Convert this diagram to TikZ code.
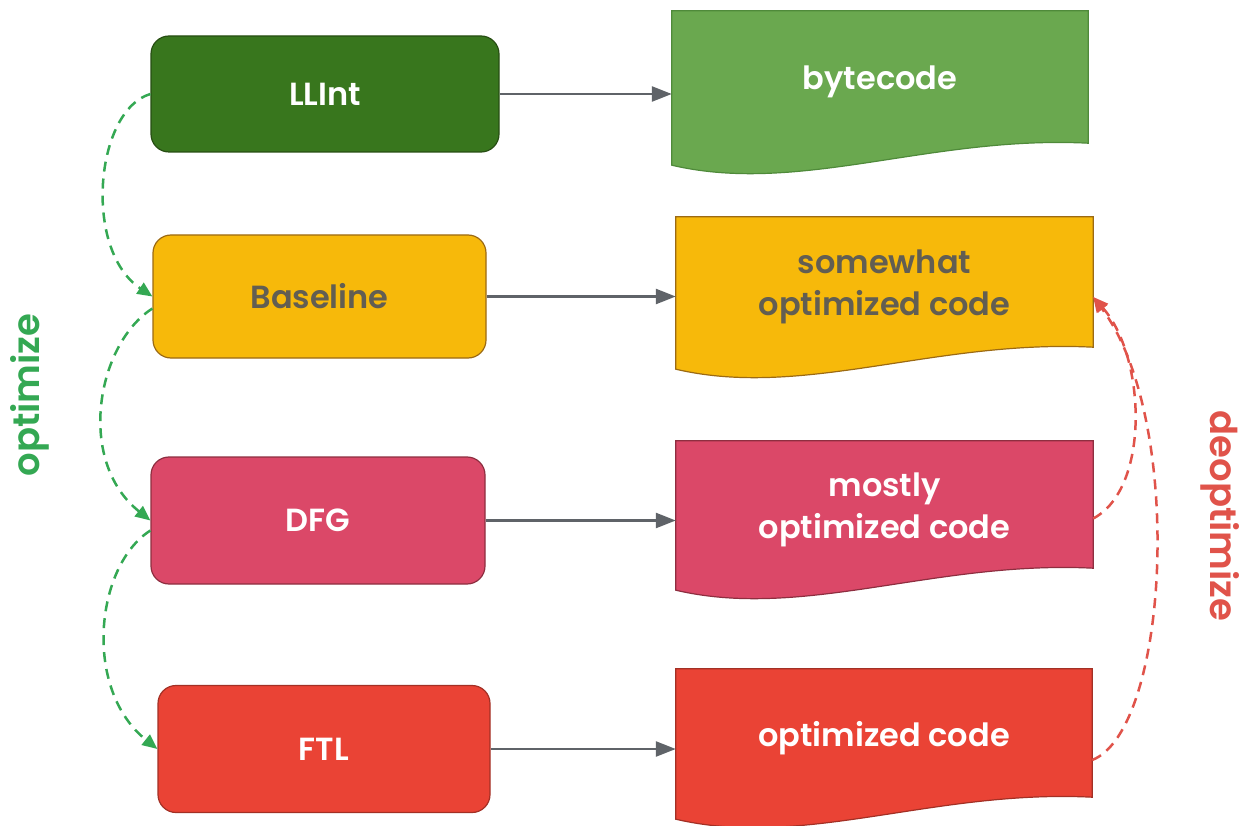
\documentclass[tikz,border=0pt]{standalone}
\usepackage{fontspec}
\setmainfont{Poppins}[BoldFont={Poppins SemiBold}]
\usetikzlibrary{arrows.meta}

\definecolor{llintfill}{HTML}{38761D}
\definecolor{llintline}{HTML}{274E13}
\definecolor{bytefill}{HTML}{6AA84F}
\definecolor{byteline}{HTML}{4F8A3A}
\definecolor{basefill}{HTML}{F7B90A}
\definecolor{baseedge}{HTML}{9C6A13}
\definecolor{dfgfill}{HTML}{DB4868}
\definecolor{dfgline}{HTML}{8E2E40}
\definecolor{ftlfill}{HTML}{EA4335}
\definecolor{ftlline}{HTML}{A33025}
\definecolor{darktext}{HTML}{625E52}
\definecolor{flowgray}{HTML}{5F6368}
\definecolor{optgreen}{HTML}{34A853}
\definecolor{deoptred}{HTML}{E0534A}

\pgfdeclarelayer{background}
\pgfsetlayers{background,main}

% wavy-bottomed document outline behind a named node (outline sits 5pt above the node box)
\newcommand{\wavedoc}[3]{%
  \begin{pgfonlayer}{background}
    \filldraw[fill=#2, draw=#3, line width=1.2pt]
      ([yshift=5pt]#1.north west) -- ([yshift=5pt]#1.north east) -- ([yshift=5pt]#1.south east)
      .. controls +(-158,-8) and +(128,30) .. ([yshift=-17pt]#1.south west) -- cycle;
  \end{pgfonlayer}}

\begin{document}
\begin{tikzpicture}[x=1pt, y=-1pt,
  label/.style={font=\fontsize{32}{42}\selectfont\bfseries, align=center},
  engine/.style={label, rounded corners=18pt, line width=1.2pt, inner sep=0pt},
  docbox/.style={label, inner sep=0pt, minimum width=416pt},
  flow/.style={draw=flowgray, line width=2.5pt, -{Triangle[length=20pt, width=15pt]}},
  opt/.style={draw=optgreen, line width=2.5pt, dash pattern=on 10pt off 7pt,
    -{Triangle[length=15pt, width=13pt]}},
  deopt/.style={draw=deoptred, line width=2.5pt, dash pattern=on 10pt off 7pt,
    -{Triangle[length=15pt, width=13pt]}},
  side/.style={font=\fontsize{37}{44}\selectfont\bfseries}
]
\useasboundingbox (0,0) rectangle (1242,826);

% execution tiers
\node[engine, fill=llintfill, draw=llintline, text=white,
  minimum width=348pt, minimum height=116pt] (llint) at (325,94) {LLInt};
\node[engine, fill=basefill, draw=baseedge, text=darktext,
  minimum width=333pt, minimum height=123pt] (base) at (319.5,296.5) {Baseline};
\node[engine, fill=dfgfill, draw=dfgline, text=white,
  minimum width=334pt, minimum height=127pt] (dfg) at (318,520.5) {DFG};
\node[engine, fill=ftlfill, draw=ftlline, text=white,
  minimum width=332pt, minimum height=127pt] (ftl) at (324,749) {FTL};

% produced code
\node[docbox, text=white, minimum height=132pt] (byte) at (880,82) {bytecode};
\wavedoc{byte}{bytefill}{byteline}
\node[docbox, text=darktext, minimum width=417pt, minimum height=130pt] (some) at (884.5,287)
  {somewhat\\optimized code};
\wavedoc{some}{basefill}{baseedge}
\node[docbox, text=white, minimum width=417pt, minimum height=127pt] (most) at (884.5,509.5)
  {mostly\\optimized code};
\wavedoc{most}{dfgfill}{dfgline}
\node[docbox, text=white, minimum height=128pt] (full) at (884,738) {optimized code};
\wavedoc{full}{ftlfill}{ftlline}

% tier -> code
\draw[flow] (llint.east) -- (llint.east -| byte.west);
\draw[flow] (base.east) -- (base.east -| some.west);
\draw[flow] (dfg.east) -- (dfg.east -| most.west);
\draw[flow] (ftl.east) -- (ftl.east -| full.west);

% tier-up path
\draw[opt] (llint.west) .. controls +(-55,16) and +(-70,-47) .. (base.west);
\draw[opt] ([yshift=-12pt]base.west) .. controls +(-55,35) and +(-75,-60) .. (dfg.west);
\draw[opt] ([yshift=-10pt]dfg.west) .. controls +(-55,35) and +(-75,-60) .. (ftl.west);

% bail-out path
\draw[deopt] ([yshift=-9pt]most.east) .. controls +(57,-30) and +(53,60) .. ([yshift=-10pt]some.east);
\draw[deopt] ([yshift=-22pt]full.east) .. controls +(77,-30) and +(92,123) .. ([yshift=-10pt]some.east);

\node[side, rotate=90, text=optgreen] (optlabel) at (30,395) {optimize};
\node[side, rotate=-90, text=deoptred] (deoptlabel) at (1220,516) {deoptimize};
\end{tikzpicture}
\end{document}
